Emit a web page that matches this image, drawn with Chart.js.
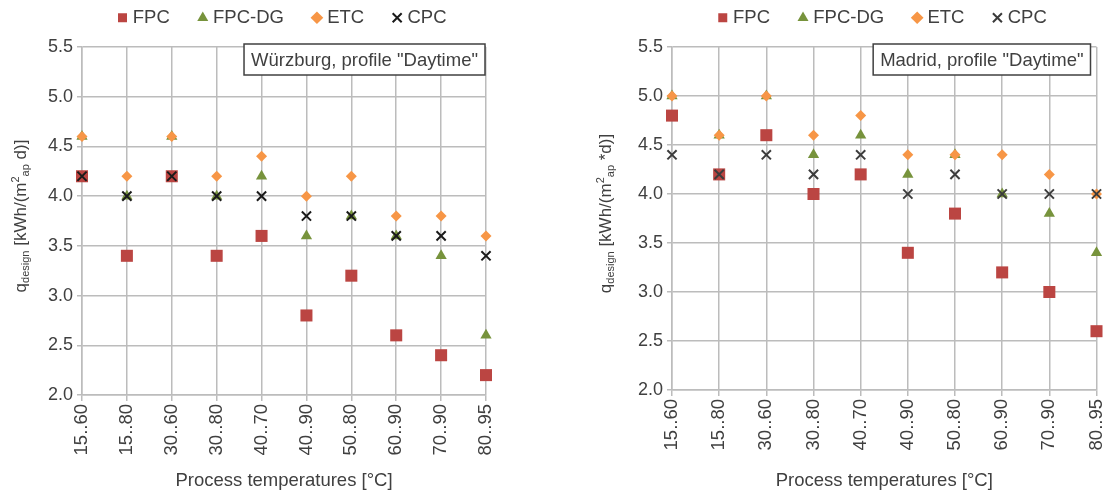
<!DOCTYPE html>
<html>
<head>
<meta charset="utf-8">
<script src="https://cdn.jsdelivr.net/npm/chart.js@4.4.1/dist/chart.umd.min.js"></script>
<style>
    body { margin: 0; background: #fff; width: 1105px; height: 493px; overflow: hidden; position: relative; }
    .panel { position: absolute; top: 0; height: 493px; }
    #leftPanel { left: 0; width: 552px; }
    #rightPanel { left: 552px; width: 553px; }
</style>
</head>
<body>
<div class="panel" id="leftPanel"><canvas id="chartWue" width="552" height="493"></canvas></div>
<div class="panel" id="rightPanel"><canvas id="chartMad" width="553" height="493"></canvas></div>
<script>
// process temperature ranges (x axis)
const categories = ['15..60', '15..80', '30..60', '30..80', '40..70', '40..90', '50..80', '60..90', '70..90', '80..95'];
const seriesNames = ['FPC', 'FPC-DG', 'ETC', 'CPC'];
const yTicks = { min: 2.0, max: 5.5, step: 0.5 };

// Würzburg, profile "Daytime"
const wueFPC   = [4.2, 3.4, 4.2, 3.4, 3.6, 2.8, 3.2, 2.6, 2.4, 2.2];
const wueFPCDG = [4.6, 4.0, 4.6, 4.0, 4.2, 3.6, 3.8, 3.6, 3.4, 2.6];
const wueETC   = [4.6, 4.2, 4.6, 4.2, 4.4, 4.0, 4.2, 3.8, 3.8, 3.6];
const wueCPC   = [4.2, 4.0, 4.2, 4.0, 4.0, 3.8, 3.8, 3.6, 3.6, 3.4];

// Madrid, profile "Daytime"
const madFPC   = [4.8, 4.2, 4.6, 4.0, 4.2, 3.4, 3.8, 3.2, 3.0, 2.6];
const madFPCDG = [5.0, 4.6, 5.0, 4.4, 4.6, 4.2, 4.4, 4.0, 3.8, 3.4];
const madETC   = [5.0, 4.6, 5.0, 4.6, 4.8, 4.4, 4.4, 4.4, 4.2, 4.0];
const madCPC   = [4.4, 4.2, 4.4, 4.2, 4.4, 4.0, 4.2, 4.0, 4.0, 4.0];

const textColor = '#404040';
const gridColor = '#bcbcbc';
const fontFamily = '"Liberation Sans", Arial, sans-serif';
const fontSize = 18.5;

Chart.defaults.font.family = fontFamily;
Chart.defaults.color = textColor;

function buildDatasets(values, cpcColor) {
    const looks = [
        { pointStyle: 'rect', color: '#bb4542', radius: 8.5, width: 0 },
        { pointStyle: 'triangle', color: '#77933c', radius: 6.5, width: 0 },
        { pointStyle: 'rectRot', color: '#f79646', radius: 5.5, width: 0 },
        { pointStyle: 'crossRot', color: cpcColor, radius: 6.5, width: 2 }
    ];
    return values.map(function (data, i) {
        const look = looks[i];
        return {
            label: seriesNames[i],
            data: data,
            showLine: false,
            clip: false,
            order: 4 - i,
            pointStyle: look.pointStyle,
            pointRadius: look.radius,
            pointHoverRadius: look.radius,
            backgroundColor: look.color,
            borderColor: look.color,
            pointBackgroundColor: look.color,
            pointBorderColor: look.color,
            pointBorderWidth: look.width,
            borderWidth: look.width
        };
    });
}

// extra room under the legend so the legend sits higher
const legendGapPlugin = {
    id: 'legendGap',
    beforeLayout: function (chart, args, opts) {
        const legend = chart.legend;
        if (legend && !legend._gapPatched) {
            const fit = legend.fit;
            legend.fit = function () {
                fit.call(this);
                this.height += opts.extra;
            };
            legend._gapPatched = true;
        }
    }
};

// y title with sub- and superscripts
const yTitlePlugin = {
    id: 'yTitle',
    afterDraw: function (chart, args, opts) {
        const ctx = chart.ctx;
        const area = chart.chartArea;
        const parts = opts.parts;
        const fontOf = function (p) {
            return (p.kind === 'n' ? 17 : 11) + 'px ' + fontFamily;
        };
        let total = 0;
        parts.forEach(function (p) {
            ctx.font = fontOf(p);
            total += ctx.measureText(p.text).width;
        });
        ctx.save();
        ctx.translate(opts.x, (area.top + area.bottom) / 2 + opts.dy);
        ctx.rotate(-Math.PI / 2);
        ctx.fillStyle = textColor;
        ctx.textBaseline = 'alphabetic';
        let cx = -total / 2;
        parts.forEach(function (p) {
            ctx.font = fontOf(p);
            const shift = p.kind === 'sub' ? 9 : (p.kind === 'sup' ? -1 : 6);
            ctx.fillText(p.text, cx, shift);
            cx += ctx.measureText(p.text).width;
        });
        ctx.restore();
    }
};

// framed caption in the top right corner of the plot
const captionPlugin = {
    id: 'caption',
    afterDraw: function (chart, args, opts) {
        const ctx = chart.ctx;
        const area = chart.chartArea;
        ctx.save();
        ctx.font = fontSize + 'px ' + fontFamily;
        const w = ctx.measureText(opts.text).width + 14;
        const h = 31;
        const x = area.right - opts.right - w;
        const y = area.top - 3;
        ctx.fillStyle = '#ffffff';
        ctx.fillRect(x, y, w, h);
        ctx.strokeStyle = '#404040';
        ctx.lineWidth = 1.5;
        ctx.strokeRect(x, y, w, h);
        ctx.fillStyle = textColor;
        ctx.textBaseline = 'middle';
        ctx.textAlign = 'center';
        ctx.fillText(opts.text, x + w / 2, y + h / 2 + 1);
        ctx.restore();
    }
};

function makeChart(canvasId, values, cpcColor, cfg) {
    const chart = new Chart(document.getElementById(canvasId), {
        type: 'line',
        data: {
            labels: categories,
            datasets: buildDatasets(values, cpcColor)
        },
        options: {
            responsive: false,
            animation: false,
            layout: {
                padding: { top: 0, left: 0, right: cfg.padRight, bottom: 0 }
            },
            plugins: {
                legend: {
                    position: 'top',
                    fullSize: false,
                    labels: {
                        usePointStyle: true,
                        boxWidth: 2,
                        boxHeight: 9,
                        padding: 32,
                        color: textColor,
                        font: { size: fontSize },
                        sort: function (a, b) { return a.datasetIndex - b.datasetIndex; }
                    }
                },
                tooltip: { enabled: false },
                legendGap: { extra: 10 },
                yTitle: { x: cfg.titleX, dy: -5, parts: cfg.titleParts },
                caption: { text: cfg.caption, right: cfg.captionRight }
            },
            scales: {
                x: {
                    type: 'category',
                    offset: false,
                    grid: { color: gridColor, lineWidth: 1.5, tickLength: 6 },
                    border: { color: gridColor, width: 1.5 },
                    ticks: {
                        autoSkip: false,
                        minRotation: 90,
                        maxRotation: 90,
                        padding: 3,
                        color: textColor,
                        font: { size: fontSize }
                    },
                    title: {
                        display: true,
                        text: 'Process temperatures [°C]',
                        color: textColor,
                        font: { size: fontSize },
                        padding: { top: 0, bottom: 1 }
                    },
                    afterFit: function (scale) {
                        scale.height = 493 - cfg.bottom;
                        scale.paddingLeft = 0;
                        scale.paddingRight = 0;
                    }
                },
                y: {
                    min: yTicks.min,
                    max: yTicks.max,
                    grid: { color: gridColor, lineWidth: 1.5, tickLength: 5 },
                    border: { color: gridColor, width: 1.5 },
                    ticks: {
                        stepSize: yTicks.step,
                        padding: 4,
                        color: textColor,
                        font: { size: 18 },
                        callback: function (value) { return Number(value).toFixed(1); }
                    },
                    afterFit: function (scale) {
                        scale.width = cfg.axisWidth;
                        scale.paddingTop = 0;
                        scale.paddingBottom = 0;
                    }
                }
            }
        },
        plugins: [legendGapPlugin, yTitlePlugin, captionPlugin]
    });

    // push the plot top to where the reference has it
    const diff = cfg.top - chart.chartArea.top;
    if (diff !== 0) {
        chart.options.layout.padding.top += diff;
        chart.update();
    }
    return chart;
}

makeChart('chartWue', [wueFPC, wueFPCDG, wueETC, wueCPC], '#1a1a1a', {
    axisWidth: 82,
    padRight: 552 - 486,
    top: 47,
    bottom: 395,
    titleX: 20,
    caption: 'Würzburg, profile "Daytime"',
    captionRight: 1,
    titleParts: [
        { text: 'q', kind: 'n' },
        { text: 'design', kind: 'sub' },
        { text: ' [kWh/(m', kind: 'n' },
        { text: '2', kind: 'sup' },
        { text: 'ap', kind: 'sub' },
        { text: ' d)]', kind: 'n' }
    ]
});

makeChart('chartMad', [madFPC, madFPCDG, madETC, madCPC], '#3c3c3c', {
    axisWidth: 672 - 552,
    padRight: 553 - 546,
    top: 47,
    bottom: 390,
    titleX: 605 - 552,
    caption: 'Madrid, profile "Daytime"',
    captionRight: 6,
    titleParts: [
        { text: 'q', kind: 'n' },
        { text: 'design', kind: 'sub' },
        { text: ' [kWh/(m', kind: 'n' },
        { text: '2', kind: 'sup' },
        { text: 'ap', kind: 'sub' },
        { text: ' *d)]', kind: 'n' }
    ]
});
</script>
</body>
</html>
